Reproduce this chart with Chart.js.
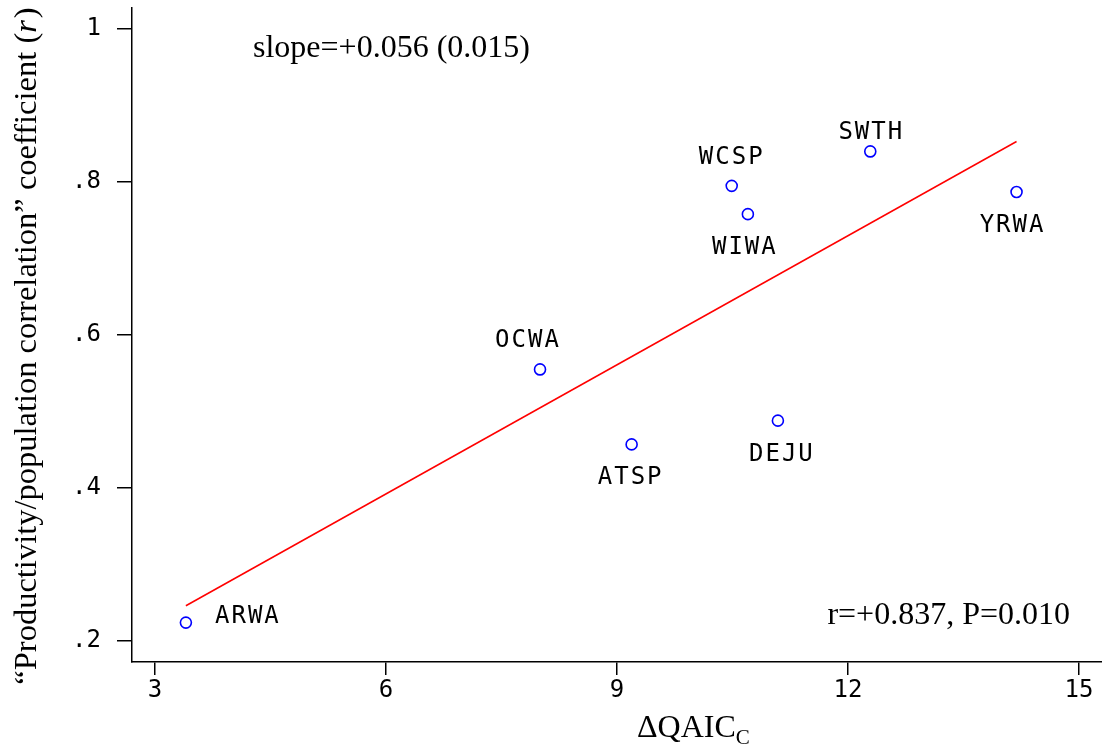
<!DOCTYPE html>
<html>
<head>
<meta charset="utf-8">
<script src="https://cdn.jsdelivr.net/npm/chart.js@4/dist/chart.umd.min.js"></script>
<style>
  html, body { margin: 0; padding: 0; background: #ffffff; }
  #wrap { width: 1102px; height: 751px; }
</style>
</head>
<body>
<div id="wrap"><canvas id="c" width="1102" height="751"></canvas></div>
<script>
// Species, their ΔQAICc and productivity/population correlation coefficient
const species    = ['ARWA', 'OCWA', 'ATSP', 'WCSP', 'WIWA', 'DEJU', 'SWTH', 'YRWA'];
const deltaQAICc = [3.40, 8.00, 9.19, 10.49, 10.70, 11.09, 12.29, 14.19];
const corrCoef   = [0.224, 0.555, 0.457, 0.795, 0.758, 0.488, 0.840, 0.787];

// Fitted regression line (ends at the smallest and largest ΔQAICc)
const fitX = [3.40, 14.19];
const fitY = [0.246, 0.853];

// Axis ticks
const xTicks = [3, 6, 9, 12, 15];
const yTicks = [0.2, 0.4, 0.6, 0.8, 1];
const yTickLabels = ['.2', '.4', '.6', '.8', '1'];

// Annotation texts
const slopeText = 'slope=+0.056 (0.015)';
const statText  = 'r=+0.837, P=0.010';

// Where each species label sits relative to its marker (label centre offset, px)
const labelPlacement = {
  ARWA: { dx: 61,  dy: -8 },
  OCWA: { dx: -13, dy: -31 },
  ATSP: { dx: -2,  dy: 31 },
  WCSP: { dx: -1,  dy: -31 },
  WIWA: { dx: -4,  dy: 31 },
  DEJU: { dx: 3,   dy: 32 },
  SWTH: { dx: 0,   dy: -21 },
  YRWA: { dx: -5,  dy: 31 }
};

const MONO = '"DejaVu Sans Mono", monospace';
const SERIF = '"Liberation Serif", "Times New Roman", serif';
const LABEL_SIZE = 24;

const labelPlugin = {
  id: 'speciesLabels',
  afterDatasetsDraw(chart) {
    const ctx = chart.ctx;
    const meta = chart.getDatasetMeta(0);
    ctx.save();
    ctx.font = LABEL_SIZE + 'px ' + MONO;
    ctx.fillStyle = '#000';
    ctx.textAlign = 'left';
    ctx.textBaseline = 'alphabetic';
    ctx.letterSpacing = '2px';
    const cap = LABEL_SIZE * 0.73;
    meta.data.forEach((pt, i) => {
      const name = species[i];
      const p = labelPlacement[name];
      const w = ctx.measureText(name).width - 2;
      ctx.fillText(name, pt.x + p.dx - w / 2, pt.y + p.dy + cap / 2);
    });
    ctx.restore();
  }
};

const textPlugin = {
  id: 'annotations',
  afterDraw(chart) {
    const ctx = chart.ctx;
    ctx.save();
    ctx.fillStyle = '#000';
    ctx.textBaseline = 'alphabetic';

    // statistics in the plot area
    ctx.font = '32px ' + SERIF;
    ctx.textAlign = 'left';
    ctx.fillText(slopeText, 253, 57);
    ctx.textAlign = 'right';
    ctx.fillText(statText, 1070, 624);

    // x-axis title: ΔQAIC with subscript C
    ctx.textAlign = 'left';
    ctx.font = '32px ' + SERIF;
    const main = 'ΔQAIC';
    ctx.fillText(main, 637, 737);
    const mw = ctx.measureText(main).width;
    ctx.font = '21px ' + SERIF;
    ctx.fillText('C', 637 + mw, 744);

    // y-axis title, rotated, with italic r
    ctx.translate(36, 347);
    ctx.rotate(-Math.PI / 2);
    const parts = [
      { t: '\u201CProductivity/population correlation\u201D coefficient (', f: '32.5px ' + SERIF },
      { t: 'r', f: 'italic 32.5px ' + SERIF },
      { t: ')', f: '32.5px ' + SERIF }
    ];
    let total = 0;
    parts.forEach(p => { ctx.font = p.f; p.w = ctx.measureText(p.t).width; total += p.w; });
    let x = -total / 2;
    parts.forEach(p => { ctx.font = p.f; ctx.fillText(p.t, x, 0); x += p.w + (p.t === 'r' ? 2 : 0); });
    ctx.restore();
  }
};

// axes only: no grid in the plot area, no extra edge padding
const noEdgePadding = s => { s.paddingTop = 0; s.paddingBottom = 0; s.paddingLeft = 0; s.paddingRight = 0; };
const axisGrid = { drawOnChartArea: false, drawTicks: true, color: '#000', lineWidth: 1.5 };
const axisBorder = { display: true, color: '#000', width: 1.5 };

new Chart(document.getElementById('c').getContext('2d'), {
  type: 'scatter',
  data: {
    datasets: [
      {
        label: 'species',
        data: species.map((s, i) => ({ x: deltaQAICc[i], y: corrCoef[i] })),
        pointStyle: 'circle',
        pointRadius: 5.5,
        pointBorderWidth: 1.6,
        borderColor: '#0000ff',
        backgroundColor: 'rgba(0,0,0,0)',
        order: 1
      },
      {
        label: 'fit',
        data: fitX.map((x, i) => ({ x: x, y: fitY[i] })),
        showLine: true,
        borderColor: '#ff0000',
        borderWidth: 1.5,
        pointRadius: 0,
        order: 2
      }
    ]
  },
  options: {
    responsive: false,
    animation: false,
    layout: { autoPadding: false, padding: { top: 8, right: 0, bottom: 0, left: 0 } },
    plugins: { legend: { display: false }, tooltip: { enabled: false } },
    scales: {
      x: {
        type: 'linear',
        min: 2.7,
        max: 15.3,
        afterBuildTicks: s => { s.ticks = xTicks.map(v => ({ value: v })); },
        afterFit: s => { s.height = 89; noEdgePadding(s); },
        grid: Object.assign({}, axisGrid, { tickLength: 13 }),
        border: axisBorder,
        ticks: {
          font: { family: MONO, size: 24 },
          color: '#000',
          padding: 1,
          maxRotation: 0,
          autoSkip: false,
          callback: v => String(v)
        }
      },
      y: {
        type: 'linear',
        min: 0.1725,
        max: 1.0275,
        afterBuildTicks: s => { s.ticks = yTicks.map(v => ({ value: v })); },
        afterFit: s => { s.width = 132; noEdgePadding(s); },
        grid: Object.assign({}, axisGrid, { tickLength: 15 }),
        border: axisBorder,
        ticks: {
          font: { family: MONO, size: 24 },
          color: '#000',
          padding: 16,
          autoSkip: false,
          callback: v => yTickLabels[yTicks.findIndex(t => Math.abs(t - v) < 1e-9)]
        }
      }
    }
  },
  plugins: [labelPlugin, textPlugin]
});
</script>
</body>
</html>
